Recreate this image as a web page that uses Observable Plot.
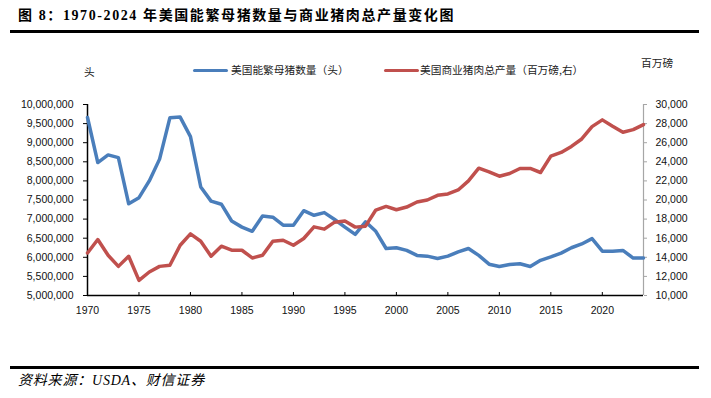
<!DOCTYPE html>
<html><head><meta charset="utf-8">
<script src="https://cdn.jsdelivr.net/npm/d3@7"></script>
<script src="https://cdn.jsdelivr.net/npm/@observablehq/plot@0.6"></script>
<style>
body{margin:0;background:#fff;}
#wrap{position:relative;width:711px;height:398px;overflow:hidden;background:#fff;}
.abs{position:absolute;white-space:nowrap;line-height:14px;}
#title{left:18px;top:9px;font-weight:bold;font-size:14px;font-family:"Liberation Serif","Noto Sans CJK SC",serif;letter-spacing:1.6px;color:#000;}
.rule{position:absolute;left:10px;width:689px;height:3px;background:#000;}
.lbl{font-size:10.7px;font-family:"Noto Sans CJK SC",sans-serif;color:#222;}
.sw{position:absolute;width:35px;height:3.5px;border-radius:2px;}
#src{left:18px;top:374px;font-size:14px;letter-spacing:0.8px;font-style:italic;font-family:"Liberation Serif","Noto Sans CJK SC",serif;color:#000;}
#chart{position:absolute;left:0;top:40px;}
</style></head>
<body>
<div id="wrap">
  <div id="title" class="abs">图 8：1970-2024 年美国能繁母猪数量与商业猪肉总产量变化图</div>
  <div class="rule" style="top:30px"></div>
  <div class="abs lbl" style="left:84px;top:65px;">头</div>
  <div class="abs lbl" style="left:641px;top:56px;">百万磅</div>
  <div class="sw" style="left:193px;top:68.5px;background:#4a7ebb"></div>
  <div class="abs lbl" style="left:231px;top:63px;">美国能繁母猪数量（头）</div>
  <div class="sw" style="left:384px;top:68.5px;background:#c0504d"></div>
  <div class="abs lbl" style="left:420px;top:63px;">美国商业猪肉总产量（百万磅,右）</div>
  <div id="chart"></div>
  <div class="rule" style="top:366px"></div>
  <div id="src" class="abs">资料来源：USDA、财信证券</div>
</div>
<script>
const years = [1970,1971,1972,1973,1974,1975,1976,1977,1978,1979,
  1980,1981,1982,1983,1984,1985,1986,1987,1988,1989,
  1990,1991,1992,1993,1994,1995,1996,1997,1998,1999,
  2000,2001,2002,2003,2004,2005,2006,2007,2008,2009,
  2010,2011,2012,2013,2014,2015,2016,2017,2018,2019,
  2020,2021,2022,2023,2024];
const sows = [9660000,8480000,8680000,8610000,7400000,7560000,8000000,8570000,9650000,9670000,
  9160000,7840000,7470000,7390000,6950000,6790000,6680000,7080000,7050000,6840000,
  6840000,7220000,7100000,7170000,6990000,6790000,6600000,6930000,6680000,6230000,
  6250000,6180000,6050000,6030000,5970000,6030000,6140000,6230000,6050000,5820000,
  5760000,5810000,5830000,5760000,5920000,6010000,6110000,6250000,6350000,6490000,
  6160000,6160000,6180000,5980000,5980000];
const pork = [14450,15860,14210,13050,14110,11580,12460,13050,13160,15260,
  16450,15680,14110,15160,14740,14740,13930,14210,15680,15790,
  15260,15970,17190,16950,17680,17790,17160,17260,18950,19330,
  18980,19260,19790,20000,20490,20630,21050,22000,23330,22950,
  22490,22770,23300,23300,22880,24600,24980,25610,26390,27680,
  28390,27720,27090,27370,27900];
const leftTicks = [5000000,5500000,6000000,6500000,7000000,7500000,8000000,8500000,9000000,9500000,10000000];
const rightTicks = [10000,12000,14000,16000,18000,20000,22000,24000,26000,28000,30000];
const xTicks = [1970,1975,1980,1985,1990,1995,2000,2005,2010,2015,2020];
const seriesNames = ["美国能繁母猪数量（头）","美国商业猪肉总产量（百万磅,右）"];

const leftDomain = [5000000, 10000000];
const rightDomain = [10000, 30000];
const k = (leftDomain[1]-leftDomain[0])/(rightDomain[1]-rightDomain[0]);
const toLeft = r => leftDomain[0] + (r - rightDomain[0]) * k;
const fromLeft = v => rightDomain[0] + (v - leftDomain[0]) / k;

const data = years.map((y, i) => ({year: y, sows: sows[i], pork: pork[i]}));
const fmt = d3.format(",");

const chart = Plot.plot({
  width: 711, height: 300,
  marginLeft: 87, marginRight: 68, marginTop: 64, marginBottom: 45,
  style: {fontFamily: '"Liberation Sans", "DejaVu Sans", sans-serif', fontSize: "10.5px", color: "#111", background: "transparent", overflow: "visible"},
  x: {domain: [1970, 2024]},
  y: {domain: leftDomain},
  marks: [
    Plot.axisY({ticks: leftTicks, tickFormat: fmt, tickSize: 4, tickPadding: 10, label: null, stroke: "#000"}),
    Plot.axisY({anchor: "right", ticks: rightTicks.map(toLeft), tickFormat: d => fmt(Math.round(fromLeft(d))), tickSize: 3, tickPadding: 9, label: null, stroke: "#a6a6a6"}),
    Plot.axisX({ticks: xTicks, tickFormat: d => String(d), tickSize: -3, tickPadding: 14, label: null, stroke: "#000"}),
    Plot.ruleX([2024], {stroke: "#a6a6a6", strokeWidth: 1.2}),
    Plot.ruleX([1970], {stroke: "#000", strokeWidth: 1.5}),
    Plot.ruleY([leftDomain[0]], {stroke: "#000", strokeWidth: 1.5}),
    Plot.line(data, {x: "year", y: "sows", stroke: "#4a7ebb", strokeWidth: 3.5, title: () => seriesNames[0]}),
    Plot.line(data, {x: "year", y: d => toLeft(d.pork), stroke: "#c0504d", strokeWidth: 3.5, title: () => seriesNames[1]})
  ]
});
document.getElementById("chart").appendChild(chart);
</script>
</body></html>
